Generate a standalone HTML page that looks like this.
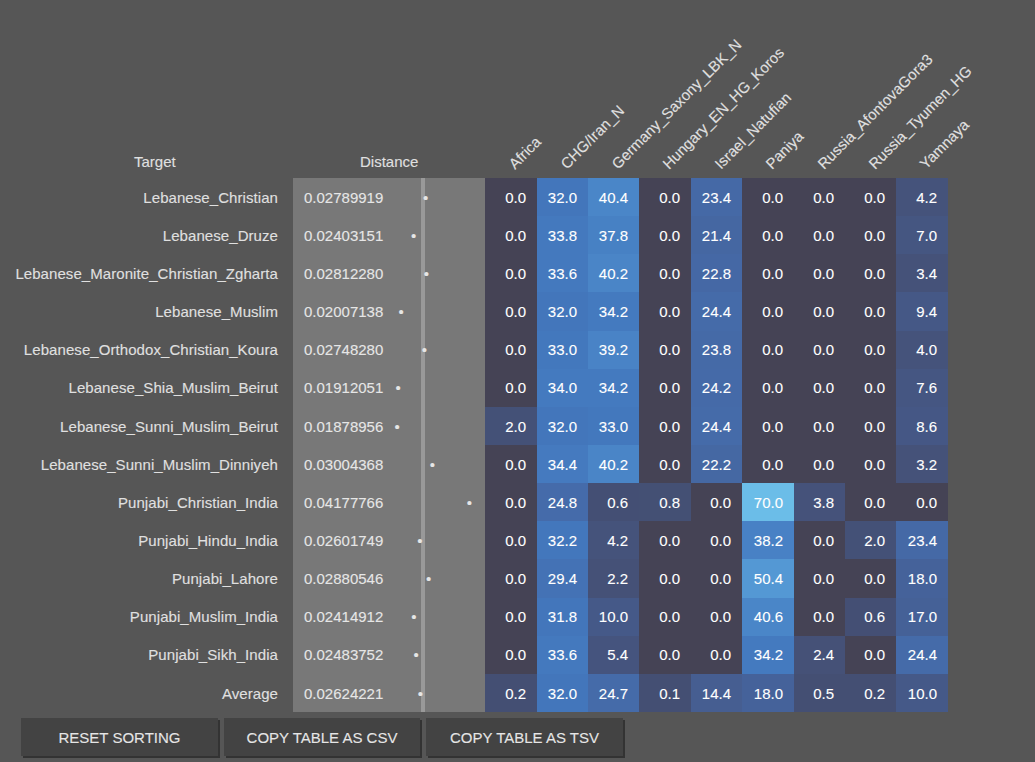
<!DOCTYPE html>
<html><head><meta charset="utf-8"><title>Vahaduo Multi</title>
<style>
html,body{margin:0;padding:0;}
body{width:1035px;height:762px;overflow:hidden;background:#565656;font-family:"Liberation Sans",Arial,sans-serif;font-size:15px;color:#e0e0e0;position:relative;-webkit-text-stroke:0.1px currentColor;}
.h,.nm,.dv,.dot,.c span{position:absolute;white-space:nowrap;line-height:17px;}
.hr{position:absolute;white-space:nowrap;line-height:17px;transform-origin:0 0;transform:rotate(-45deg);}
.nm{right:757px;text-align:right;letter-spacing:0.07px;}
.dcol{position:absolute;left:293px;top:178px;width:192px;height:534px;background:#787878;}
.vline{position:absolute;left:421px;top:178px;width:4px;height:534px;background:#999;}
.dv{left:304px;color:#e6e6e6;}
.dot{color:#e6e6e6;}
.c{position:absolute;color:#fff;}
.c span{right:11px;}
.btn{position:absolute;top:718px;height:38px;margin:0;padding:0;border:0;border-radius:0;background:#434343;box-shadow:2px 2px 0 #333;color:#e6e6e6;font:inherit;-webkit-text-stroke:inherit;cursor:pointer;}
.btn span{position:absolute;left:0;right:0;top:11px;text-align:center;line-height:17px;}
</style></head><body>

<div class="h" style="left:134px;top:153px;">Target</div>
<div class="h" style="left:360px;top:153px;">Distance</div>
<div class="hr" style="left:505.3px;top:160.3px;">Africa</div>
<div class="hr" style="left:557.3px;top:160.3px;">CHG/Iran_N</div>
<div class="hr" style="left:608.3px;top:160.3px;">Germany_Saxony_LBK_N</div>
<div class="hr" style="left:659.3px;top:160.3px;">Hungary_EN_HG_Koros</div>
<div class="hr" style="left:711.3px;top:160.3px;">Israel_Natufian</div>
<div class="hr" style="left:762.3px;top:160.3px;">Paniya</div>
<div class="hr" style="left:814.3px;top:160.3px;">Russia_AfontovaGora3</div>
<div class="hr" style="left:865.3px;top:160.3px;">Russia_Tyumen_HG</div>
<div class="hr" style="left:916.3px;top:160.3px;">Yamnaya</div>
<div class="dcol"></div><div class="vline"></div>
<div class="nm" style="top:188.7px;">Lebanese_Christian</div>
<div class="dv" style="top:188.7px;">0.02789919</div>
<div class="dot" style="left:423.09px;top:188.7px;">&bull;</div>
<div class="c" style="left:485px;top:178px;width:52px;height:38.14px;background:#454355;"><span style="top:10.7px;">0.0</span></div>
<div class="c" style="left:537px;top:178px;width:51px;height:38.14px;background:#4376bb;"><span style="top:10.7px;">32.0</span></div>
<div class="c" style="left:588px;top:178px;width:51px;height:38.14px;background:#4a86c8;"><span style="top:10.7px;">40.4</span></div>
<div class="c" style="left:639px;top:178px;width:52px;height:38.14px;background:#454355;"><span style="top:10.7px;">0.0</span></div>
<div class="c" style="left:691px;top:178px;width:51px;height:38.14px;background:#4569a6;"><span style="top:10.7px;">23.4</span></div>
<div class="c" style="left:742px;top:178px;width:52px;height:38.14px;background:#454355;"><span style="top:10.7px;">0.0</span></div>
<div class="c" style="left:794px;top:178px;width:51px;height:38.14px;background:#454355;"><span style="top:10.7px;">0.0</span></div>
<div class="c" style="left:845px;top:178px;width:51px;height:38.14px;background:#454355;"><span style="top:10.7px;">0.0</span></div>
<div class="c" style="left:896px;top:178px;width:52px;height:38.14px;background:#45537b;"><span style="top:10.7px;">4.2</span></div>
<div class="nm" style="top:226.84px;">Lebanese_Druze</div>
<div class="dv" style="top:226.84px;">0.02403151</div>
<div class="dot" style="left:410.91px;top:226.84px;">&bull;</div>
<div class="c" style="left:485px;top:216.14px;width:52px;height:38.14px;background:#454355;"><span style="top:10.7px;">0.0</span></div>
<div class="c" style="left:537px;top:216.14px;width:51px;height:38.14px;background:#4479be;"><span style="top:10.7px;">33.8</span></div>
<div class="c" style="left:588px;top:216.14px;width:51px;height:38.14px;background:#4781c4;"><span style="top:10.7px;">37.8</span></div>
<div class="c" style="left:639px;top:216.14px;width:52px;height:38.14px;background:#454355;"><span style="top:10.7px;">0.0</span></div>
<div class="c" style="left:691px;top:216.14px;width:51px;height:38.14px;background:#4567a2;"><span style="top:10.7px;">21.4</span></div>
<div class="c" style="left:742px;top:216.14px;width:52px;height:38.14px;background:#454355;"><span style="top:10.7px;">0.0</span></div>
<div class="c" style="left:794px;top:216.14px;width:51px;height:38.14px;background:#454355;"><span style="top:10.7px;">0.0</span></div>
<div class="c" style="left:845px;top:216.14px;width:51px;height:38.14px;background:#454355;"><span style="top:10.7px;">0.0</span></div>
<div class="c" style="left:896px;top:216.14px;width:52px;height:38.14px;background:#455681;"><span style="top:10.7px;">7.0</span></div>
<div class="nm" style="top:264.98px;">Lebanese_Maronite_Christian_Zgharta</div>
<div class="dv" style="top:264.98px;">0.02812280</div>
<div class="dot" style="left:423.79px;top:264.98px;">&bull;</div>
<div class="c" style="left:485px;top:254.28px;width:52px;height:38.14px;background:#454355;"><span style="top:10.7px;">0.0</span></div>
<div class="c" style="left:537px;top:254.28px;width:51px;height:38.14px;background:#4479be;"><span style="top:10.7px;">33.6</span></div>
<div class="c" style="left:588px;top:254.28px;width:51px;height:38.14px;background:#4a85c7;"><span style="top:10.7px;">40.2</span></div>
<div class="c" style="left:639px;top:254.28px;width:52px;height:38.14px;background:#454355;"><span style="top:10.7px;">0.0</span></div>
<div class="c" style="left:691px;top:254.28px;width:51px;height:38.14px;background:#4568a5;"><span style="top:10.7px;">22.8</span></div>
<div class="c" style="left:742px;top:254.28px;width:52px;height:38.14px;background:#454355;"><span style="top:10.7px;">0.0</span></div>
<div class="c" style="left:794px;top:254.28px;width:51px;height:38.14px;background:#454355;"><span style="top:10.7px;">0.0</span></div>
<div class="c" style="left:845px;top:254.28px;width:51px;height:38.14px;background:#454355;"><span style="top:10.7px;">0.0</span></div>
<div class="c" style="left:896px;top:254.28px;width:52px;height:38.14px;background:#455279;"><span style="top:10.7px;">3.4</span></div>
<div class="nm" style="top:303.12px;">Lebanese_Muslim</div>
<div class="dv" style="top:303.12px;">0.02007138</div>
<div class="dot" style="left:398.43px;top:303.12px;">&bull;</div>
<div class="c" style="left:485px;top:292.42px;width:52px;height:38.14px;background:#454355;"><span style="top:10.7px;">0.0</span></div>
<div class="c" style="left:537px;top:292.42px;width:51px;height:38.14px;background:#4376bb;"><span style="top:10.7px;">32.0</span></div>
<div class="c" style="left:588px;top:292.42px;width:51px;height:38.14px;background:#447abf;"><span style="top:10.7px;">34.2</span></div>
<div class="c" style="left:639px;top:292.42px;width:52px;height:38.14px;background:#454355;"><span style="top:10.7px;">0.0</span></div>
<div class="c" style="left:691px;top:292.42px;width:51px;height:38.14px;background:#456ba9;"><span style="top:10.7px;">24.4</span></div>
<div class="c" style="left:742px;top:292.42px;width:52px;height:38.14px;background:#454355;"><span style="top:10.7px;">0.0</span></div>
<div class="c" style="left:794px;top:292.42px;width:51px;height:38.14px;background:#454355;"><span style="top:10.7px;">0.0</span></div>
<div class="c" style="left:845px;top:292.42px;width:51px;height:38.14px;background:#454355;"><span style="top:10.7px;">0.0</span></div>
<div class="c" style="left:896px;top:292.42px;width:52px;height:38.14px;background:#455886;"><span style="top:10.7px;">9.4</span></div>
<div class="nm" style="top:341.26px;">Lebanese_Orthodox_Christian_Koura</div>
<div class="dv" style="top:341.26px;">0.02748280</div>
<div class="dot" style="left:421.78px;top:341.26px;">&bull;</div>
<div class="c" style="left:485px;top:330.56px;width:52px;height:38.14px;background:#454355;"><span style="top:10.7px;">0.0</span></div>
<div class="c" style="left:537px;top:330.56px;width:51px;height:38.14px;background:#4378bd;"><span style="top:10.7px;">33.0</span></div>
<div class="c" style="left:588px;top:330.56px;width:51px;height:38.14px;background:#4983c6;"><span style="top:10.7px;">39.2</span></div>
<div class="c" style="left:639px;top:330.56px;width:52px;height:38.14px;background:#454355;"><span style="top:10.7px;">0.0</span></div>
<div class="c" style="left:691px;top:330.56px;width:51px;height:38.14px;background:#456aa7;"><span style="top:10.7px;">23.8</span></div>
<div class="c" style="left:742px;top:330.56px;width:52px;height:38.14px;background:#454355;"><span style="top:10.7px;">0.0</span></div>
<div class="c" style="left:794px;top:330.56px;width:51px;height:38.14px;background:#454355;"><span style="top:10.7px;">0.0</span></div>
<div class="c" style="left:845px;top:330.56px;width:51px;height:38.14px;background:#454355;"><span style="top:10.7px;">0.0</span></div>
<div class="c" style="left:896px;top:330.56px;width:52px;height:38.14px;background:#45537b;"><span style="top:10.7px;">4.0</span></div>
<div class="nm" style="top:379.4px;">Lebanese_Shia_Muslim_Beirut</div>
<div class="dv" style="top:379.4px;">0.01912051</div>
<div class="dot" style="left:395.44px;top:379.4px;">&bull;</div>
<div class="c" style="left:485px;top:368.7px;width:52px;height:38.14px;background:#454355;"><span style="top:10.7px;">0.0</span></div>
<div class="c" style="left:537px;top:368.7px;width:51px;height:38.14px;background:#447abf;"><span style="top:10.7px;">34.0</span></div>
<div class="c" style="left:588px;top:368.7px;width:51px;height:38.14px;background:#447abf;"><span style="top:10.7px;">34.2</span></div>
<div class="c" style="left:639px;top:368.7px;width:52px;height:38.14px;background:#454355;"><span style="top:10.7px;">0.0</span></div>
<div class="c" style="left:691px;top:368.7px;width:51px;height:38.14px;background:#456aa8;"><span style="top:10.7px;">24.2</span></div>
<div class="c" style="left:742px;top:368.7px;width:52px;height:38.14px;background:#454355;"><span style="top:10.7px;">0.0</span></div>
<div class="c" style="left:794px;top:368.7px;width:51px;height:38.14px;background:#454355;"><span style="top:10.7px;">0.0</span></div>
<div class="c" style="left:845px;top:368.7px;width:51px;height:38.14px;background:#454355;"><span style="top:10.7px;">0.0</span></div>
<div class="c" style="left:896px;top:368.7px;width:52px;height:38.14px;background:#455682;"><span style="top:10.7px;">7.6</span></div>
<div class="nm" style="top:417.54px;">Lebanese_Sunni_Muslim_Beirut</div>
<div class="dv" style="top:417.54px;">0.01878956</div>
<div class="dot" style="left:394.4px;top:417.54px;">&bull;</div>
<div class="c" style="left:485px;top:406.84px;width:52px;height:38.14px;background:#445177;"><span style="top:10.7px;">2.0</span></div>
<div class="c" style="left:537px;top:406.84px;width:51px;height:38.14px;background:#4376bb;"><span style="top:10.7px;">32.0</span></div>
<div class="c" style="left:588px;top:406.84px;width:51px;height:38.14px;background:#4378bd;"><span style="top:10.7px;">33.0</span></div>
<div class="c" style="left:639px;top:406.84px;width:52px;height:38.14px;background:#454355;"><span style="top:10.7px;">0.0</span></div>
<div class="c" style="left:691px;top:406.84px;width:51px;height:38.14px;background:#456ba9;"><span style="top:10.7px;">24.4</span></div>
<div class="c" style="left:742px;top:406.84px;width:52px;height:38.14px;background:#454355;"><span style="top:10.7px;">0.0</span></div>
<div class="c" style="left:794px;top:406.84px;width:51px;height:38.14px;background:#454355;"><span style="top:10.7px;">0.0</span></div>
<div class="c" style="left:845px;top:406.84px;width:51px;height:38.14px;background:#454355;"><span style="top:10.7px;">0.0</span></div>
<div class="c" style="left:896px;top:406.84px;width:52px;height:38.14px;background:#455785;"><span style="top:10.7px;">8.6</span></div>
<div class="nm" style="top:455.68px;">Lebanese_Sunni_Muslim_Dinniyeh</div>
<div class="dv" style="top:455.68px;">0.03004368</div>
<div class="dot" style="left:429.84px;top:455.68px;">&bull;</div>
<div class="c" style="left:485px;top:444.98px;width:52px;height:38.14px;background:#454355;"><span style="top:10.7px;">0.0</span></div>
<div class="c" style="left:537px;top:444.98px;width:51px;height:38.14px;background:#457abf;"><span style="top:10.7px;">34.4</span></div>
<div class="c" style="left:588px;top:444.98px;width:51px;height:38.14px;background:#4a85c7;"><span style="top:10.7px;">40.2</span></div>
<div class="c" style="left:639px;top:444.98px;width:52px;height:38.14px;background:#454355;"><span style="top:10.7px;">0.0</span></div>
<div class="c" style="left:691px;top:444.98px;width:51px;height:38.14px;background:#4568a3;"><span style="top:10.7px;">22.2</span></div>
<div class="c" style="left:742px;top:444.98px;width:52px;height:38.14px;background:#454355;"><span style="top:10.7px;">0.0</span></div>
<div class="c" style="left:794px;top:444.98px;width:51px;height:38.14px;background:#454355;"><span style="top:10.7px;">0.0</span></div>
<div class="c" style="left:845px;top:444.98px;width:51px;height:38.14px;background:#454355;"><span style="top:10.7px;">0.0</span></div>
<div class="c" style="left:896px;top:444.98px;width:52px;height:38.14px;background:#455279;"><span style="top:10.7px;">3.2</span></div>
<div class="nm" style="top:493.82px;">Punjabi_Christian_India</div>
<div class="dv" style="top:493.82px;">0.04177766</div>
<div class="dot" style="left:466.8px;top:493.82px;">&bull;</div>
<div class="c" style="left:485px;top:483.12px;width:52px;height:38.14px;background:#454355;"><span style="top:10.7px;">0.0</span></div>
<div class="c" style="left:537px;top:483.12px;width:51px;height:38.14px;background:#456baa;"><span style="top:10.7px;">24.8</span></div>
<div class="c" style="left:588px;top:483.12px;width:51px;height:38.14px;background:#444f74;"><span style="top:10.7px;">0.6</span></div>
<div class="c" style="left:639px;top:483.12px;width:52px;height:38.14px;background:#445074;"><span style="top:10.7px;">0.8</span></div>
<div class="c" style="left:691px;top:483.12px;width:51px;height:38.14px;background:#454355;"><span style="top:10.7px;">0.0</span></div>
<div class="c" style="left:742px;top:483.12px;width:52px;height:38.14px;background:#6bbde8;"><span style="top:10.7px;">70.0</span></div>
<div class="c" style="left:794px;top:483.12px;width:51px;height:38.14px;background:#45527a;"><span style="top:10.7px;">3.8</span></div>
<div class="c" style="left:845px;top:483.12px;width:51px;height:38.14px;background:#454355;"><span style="top:10.7px;">0.0</span></div>
<div class="c" style="left:896px;top:483.12px;width:52px;height:38.14px;background:#454355;"><span style="top:10.7px;">0.0</span></div>
<div class="nm" style="top:531.96px;">Punjabi_Hindu_India</div>
<div class="dv" style="top:531.96px;">0.02601749</div>
<div class="dot" style="left:417.16px;top:531.96px;">&bull;</div>
<div class="c" style="left:485px;top:521.26px;width:52px;height:38.14px;background:#454355;"><span style="top:10.7px;">0.0</span></div>
<div class="c" style="left:537px;top:521.26px;width:51px;height:38.14px;background:#4377bc;"><span style="top:10.7px;">32.2</span></div>
<div class="c" style="left:588px;top:521.26px;width:51px;height:38.14px;background:#45537b;"><span style="top:10.7px;">4.2</span></div>
<div class="c" style="left:639px;top:521.26px;width:52px;height:38.14px;background:#454355;"><span style="top:10.7px;">0.0</span></div>
<div class="c" style="left:691px;top:521.26px;width:51px;height:38.14px;background:#454355;"><span style="top:10.7px;">0.0</span></div>
<div class="c" style="left:742px;top:521.26px;width:52px;height:38.14px;background:#4881c5;"><span style="top:10.7px;">38.2</span></div>
<div class="c" style="left:794px;top:521.26px;width:51px;height:38.14px;background:#454355;"><span style="top:10.7px;">0.0</span></div>
<div class="c" style="left:845px;top:521.26px;width:51px;height:38.14px;background:#445177;"><span style="top:10.7px;">2.0</span></div>
<div class="c" style="left:896px;top:521.26px;width:52px;height:38.14px;background:#4569a6;"><span style="top:10.7px;">23.4</span></div>
<div class="nm" style="top:570.1px;">Punjabi_Lahore</div>
<div class="dv" style="top:570.1px;">0.02880546</div>
<div class="dot" style="left:425.94px;top:570.1px;">&bull;</div>
<div class="c" style="left:485px;top:559.4px;width:52px;height:38.14px;background:#454355;"><span style="top:10.7px;">0.0</span></div>
<div class="c" style="left:537px;top:559.4px;width:51px;height:38.14px;background:#4472b5;"><span style="top:10.7px;">29.4</span></div>
<div class="c" style="left:588px;top:559.4px;width:51px;height:38.14px;background:#455177;"><span style="top:10.7px;">2.2</span></div>
<div class="c" style="left:639px;top:559.4px;width:52px;height:38.14px;background:#454355;"><span style="top:10.7px;">0.0</span></div>
<div class="c" style="left:691px;top:559.4px;width:51px;height:38.14px;background:#454355;"><span style="top:10.7px;">0.0</span></div>
<div class="c" style="left:742px;top:559.4px;width:52px;height:38.14px;background:#5498d4;"><span style="top:10.7px;">50.4</span></div>
<div class="c" style="left:794px;top:559.4px;width:51px;height:38.14px;background:#454355;"><span style="top:10.7px;">0.0</span></div>
<div class="c" style="left:845px;top:559.4px;width:51px;height:38.14px;background:#454355;"><span style="top:10.7px;">0.0</span></div>
<div class="c" style="left:896px;top:559.4px;width:52px;height:38.14px;background:#45629a;"><span style="top:10.7px;">18.0</span></div>
<div class="nm" style="top:608.24px;">Punjabi_Muslim_India</div>
<div class="dv" style="top:608.24px;">0.02414912</div>
<div class="dot" style="left:411.28px;top:608.24px;">&bull;</div>
<div class="c" style="left:485px;top:597.54px;width:52px;height:38.14px;background:#454355;"><span style="top:10.7px;">0.0</span></div>
<div class="c" style="left:537px;top:597.54px;width:51px;height:38.14px;background:#4376bb;"><span style="top:10.7px;">31.8</span></div>
<div class="c" style="left:588px;top:597.54px;width:51px;height:38.14px;background:#455988;"><span style="top:10.7px;">10.0</span></div>
<div class="c" style="left:639px;top:597.54px;width:52px;height:38.14px;background:#454355;"><span style="top:10.7px;">0.0</span></div>
<div class="c" style="left:691px;top:597.54px;width:51px;height:38.14px;background:#454355;"><span style="top:10.7px;">0.0</span></div>
<div class="c" style="left:742px;top:597.54px;width:52px;height:38.14px;background:#4a86c8;"><span style="top:10.7px;">40.6</span></div>
<div class="c" style="left:794px;top:597.54px;width:51px;height:38.14px;background:#454355;"><span style="top:10.7px;">0.0</span></div>
<div class="c" style="left:845px;top:597.54px;width:51px;height:38.14px;background:#444f74;"><span style="top:10.7px;">0.6</span></div>
<div class="c" style="left:896px;top:597.54px;width:52px;height:38.14px;background:#456197;"><span style="top:10.7px;">17.0</span></div>
<div class="nm" style="top:646.38px;">Punjabi_Sikh_India</div>
<div class="dv" style="top:646.38px;">0.02483752</div>
<div class="dot" style="left:413.45px;top:646.38px;">&bull;</div>
<div class="c" style="left:485px;top:635.68px;width:52px;height:38.14px;background:#454355;"><span style="top:10.7px;">0.0</span></div>
<div class="c" style="left:537px;top:635.68px;width:51px;height:38.14px;background:#4479be;"><span style="top:10.7px;">33.6</span></div>
<div class="c" style="left:588px;top:635.68px;width:51px;height:38.14px;background:#45547e;"><span style="top:10.7px;">5.4</span></div>
<div class="c" style="left:639px;top:635.68px;width:52px;height:38.14px;background:#454355;"><span style="top:10.7px;">0.0</span></div>
<div class="c" style="left:691px;top:635.68px;width:51px;height:38.14px;background:#454355;"><span style="top:10.7px;">0.0</span></div>
<div class="c" style="left:742px;top:635.68px;width:52px;height:38.14px;background:#447abf;"><span style="top:10.7px;">34.2</span></div>
<div class="c" style="left:794px;top:635.68px;width:51px;height:38.14px;background:#455177;"><span style="top:10.7px;">2.4</span></div>
<div class="c" style="left:845px;top:635.68px;width:51px;height:38.14px;background:#454355;"><span style="top:10.7px;">0.0</span></div>
<div class="c" style="left:896px;top:635.68px;width:52px;height:38.14px;background:#456ba9;"><span style="top:10.7px;">24.4</span></div>
<div class="nm" style="top:684.52px;">Average</div>
<div class="dv" style="top:684.52px;">0.02624221</div>
<div class="dot" style="left:417.87px;top:684.52px;">&bull;</div>
<div class="c" style="left:485px;top:673.82px;width:52px;height:38.14px;background:#444f73;"><span style="top:10.7px;">0.2</span></div>
<div class="c" style="left:537px;top:673.82px;width:51px;height:38.14px;background:#4376bb;"><span style="top:10.7px;">32.0</span></div>
<div class="c" style="left:588px;top:673.82px;width:51px;height:38.14px;background:#456ba9;"><span style="top:10.7px;">24.7</span></div>
<div class="c" style="left:639px;top:673.82px;width:52px;height:38.14px;background:#444f73;"><span style="top:10.7px;">0.1</span></div>
<div class="c" style="left:691px;top:673.82px;width:51px;height:38.14px;background:#465e91;"><span style="top:10.7px;">14.4</span></div>
<div class="c" style="left:742px;top:673.82px;width:52px;height:38.14px;background:#45629a;"><span style="top:10.7px;">18.0</span></div>
<div class="c" style="left:794px;top:673.82px;width:51px;height:38.14px;background:#444f73;"><span style="top:10.7px;">0.5</span></div>
<div class="c" style="left:845px;top:673.82px;width:51px;height:38.14px;background:#444f73;"><span style="top:10.7px;">0.2</span></div>
<div class="c" style="left:896px;top:673.82px;width:52px;height:38.14px;background:#455988;"><span style="top:10.7px;">10.0</span></div>
<button class="btn" style="left:21px;width:197px;"><span>RESET SORTING</span></button>
<button class="btn" style="left:224px;width:196px;"><span>COPY TABLE AS CSV</span></button>
<button class="btn" style="left:426px;width:197px;"><span>COPY TABLE AS TSV</span></button>
</body></html>
